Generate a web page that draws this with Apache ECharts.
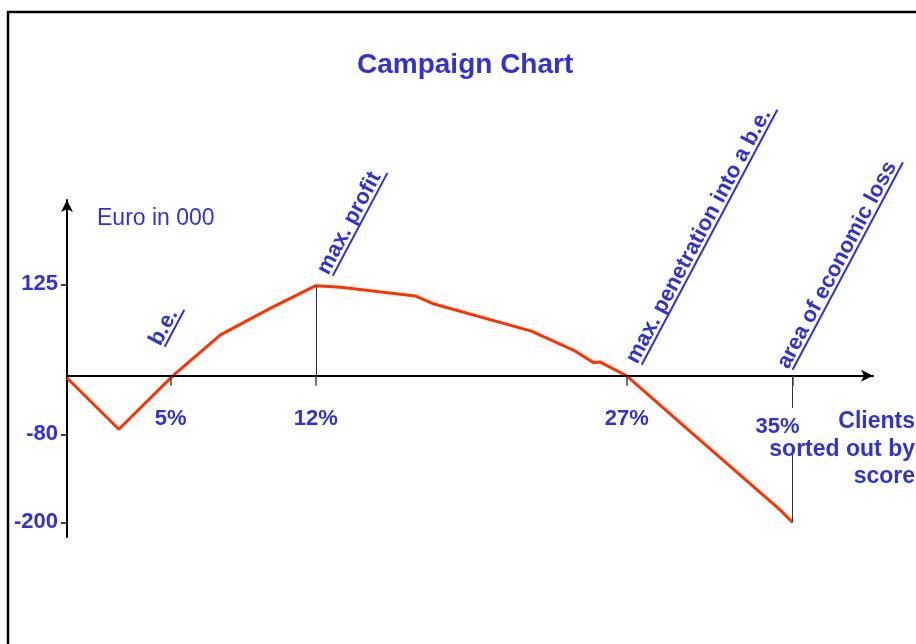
<!DOCTYPE html>
<html>
<head>
<meta charset="utf-8">
<script src="https://cdn.jsdelivr.net/npm/echarts@6/dist/echarts.min.js"></script>
<style>
  html, body { margin: 0; padding: 0; background: #fff; }
  #chart { width: 916px; height: 644px; }
</style>
</head>
<body>
<div id="chart"></div>
<script>
// ---- Data ----
const clientsPct   = [0, 2.5, 5.1, 7.4, 9.8, 12, 13.2, 16.8, 17.7, 22.4, 24.5, 25.4, 25.7, 27, 29.9, 34.4, 35];
const profitEuro   = [-3, -73, 0, 56, 92, 123, 121, 109, 98, 61, 34, 18, 19, 0, -72, -183, -200];
const xTickValues  = [5, 12, 27, 35];
const yTickValues  = [125, -80, -200];
const annotTexts   = ['b.e.', 'max. profit', 'max. penetration into a b.e.', 'area of economic loss'];
const annotX       = [5, 12, 27, 35];
const annotY       = [0, 123, 0, 0];

// ---- Styling ----
const BLUE = '#3333CC';
const RED = '#FF3300';
const FONT_FAMILY = 'Arial, "Liberation Sans", sans-serif';
const annotOffsets = [[-6, -29], [17, -10], [15, -11], [0, -6]];
const annotAngle = 62 * Math.PI / 180;
const Y_MIN = -220, Y_MAX = 240, GRID_H = 337;

const measureCtx = document.createElement('canvas').getContext('2d');
function textWidth(t, font) { measureCtx.font = font; return measureCtx.measureText(t).width; }

const lineData = clientsPct.map((x, i) => [x, profitEuro[i]]);
const annotData = annotX.map((x, i) => [x, annotY[i]]);
const annotFont = 'bold 22px ' + FONT_FAMILY;

const chart = echarts.init(document.getElementById('chart'), null, { renderer: 'canvas' });
chart.setOption({
  animation: false,
  backgroundColor: '#fff',
  title: {
    text: 'Campaign Chart',
    left: 352, top: 46,
    textStyle: { color: BLUE, fontSize: 28, fontWeight: 'bold', fontFamily: FONT_FAMILY }
  },
  graphic: [
    { type: 'rect', shape: { x: 8, y: 12, width: 1200, height: 1200 },
      style: { fill: 'none', stroke: '#000', lineWidth: 2.5 }, silent: true },
    { type: 'text', x: 97, y: 207,
      style: { text: 'Euro in 000', fill: BLUE, font: '23px ' + FONT_FAMILY } },
    { type: 'text', x: 915, y: 408, z: 10,
      style: { text: 'Clients\nsorted out by\nscore', fill: BLUE, font: 'bold 23px ' + FONT_FAMILY,
               align: 'right', verticalAlign: 'top', lineHeight: 27.5 } }
  ],
  grid: { left: 67, top: 200, width: 806, height: GRID_H, containLabel: false },
  xAxis: {
    type: 'value', min: 0, max: 38.88, z: 5,
    offset: -(0 - Y_MIN) / (Y_MAX - Y_MIN) * GRID_H,
    splitLine: { show: false },
    axisLine: { onZero: false, lineStyle: { color: '#000', width: 2 },
                symbol: ['none', 'arrow'], symbolSize: [9, 12] },
    axisTick: { show: true, customValues: xTickValues, length: 10, lineStyle: { color: '#444', width: 1.5 } },
    axisLabel: {
      customValues: xTickValues, margin: 32,
      formatter: v => (v === 35 ? '{s|' + v + '%}' : '{n|' + v + '%}'),
      rich: {
        n: { color: BLUE, fontSize: 22, fontWeight: 'bold', fontFamily: FONT_FAMILY },
        s: { color: BLUE, fontSize: 22, fontWeight: 'bold', fontFamily: FONT_FAMILY,
             backgroundColor: '#fff', padding: [8, 30, 8, 0] }
      }
    }
  },
  yAxis: {
    type: 'value', min: Y_MIN, max: Y_MAX,
    splitLine: { show: false },
    axisLine: { show: true, onZero: false, lineStyle: { color: '#000', width: 2 },
                symbol: ['none', 'arrow'], symbolSize: [9, 12] },
    axisTick: { show: true, customValues: yTickValues, length: 6, lineStyle: { color: '#000', width: 1.5 } },
    axisLabel: {
      customValues: yTickValues, margin: 9,
      color: BLUE, fontSize: 22, fontWeight: 'bold', fontFamily: FONT_FAMILY
    }
  },
  series: [
    {
      type: 'line', data: lineData, symbol: 'none', z: 3,
      lineStyle: { color: RED, width: 3 },
      markLine: {
        silent: true, symbol: ['none', 'none'], label: { show: false },
        lineStyle: { color: '#333', width: 1, type: 'solid' },
        data: [
          [{ coord: [12, 0] }, { coord: [12, 123] }],
          [{ coord: [35, 0] }, { coord: [35, -200] }]
        ]
      }
    },
    {
      type: 'custom', data: annotData, z: 4,
      renderItem: function (params, api) {
        const i = params.dataIndex;
        const p = api.coord([api.value(0), api.value(1)]);
        const off = annotOffsets[i];
        const txt = annotTexts[i];
        const w = textWidth(txt, annotFont);
        return {
          type: 'group',
          x: p[0] + off[0], y: p[1] + off[1],
          rotation: annotAngle,
          children: [
            { type: 'text', x: -2, y: -10,
              style: { text: txt, font: annotFont, fill: BLUE, align: 'left', verticalAlign: 'middle' } },
            { type: 'line', shape: { x1: 0, y1: 0, x2: w + 4, y2: 0 },
              style: { stroke: BLUE, lineWidth: 2 } }
          ]
        };
      }
    }
  ]
});
</script>
</body>
</html>
